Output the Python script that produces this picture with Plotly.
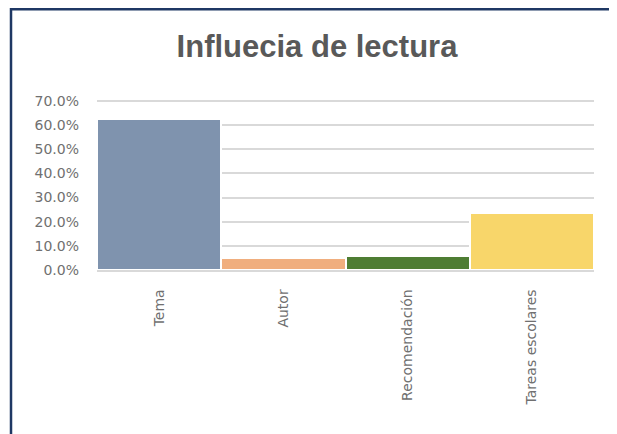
import plotly.graph_objects as go

categories = ["Tema", "Autor", "Recomendación", "Tareas escolares"]
shares = [0.625, 0.051, 0.059, 0.237]
bar_colors = ["#7F93AE", "#F0AE7E", "#4E7D33", "#F8D66A"]
y_ticks = [0, 0.1, 0.2, 0.3, 0.4, 0.5, 0.6, 0.7]

# page body has an 8px margin, so the figure is 8px smaller than the window
W, H = 609, 426
L, R, T, B = 89, 23, 91, 164
PW, PH = W - L - R, H - T - B

fig = go.Figure(
    go.Bar(
        x=categories,
        y=shares,
        marker=dict(color=bar_colors, line=dict(color="white", width=2)),
        hoverinfo="skip",
    )
)

fig.update_layout(
    width=W,
    height=H,
    margin=dict(l=L, r=R, t=T, b=B, pad=0),
    paper_bgcolor="white",
    plot_bgcolor="white",
    bargap=0,
    showlegend=False,
    title=dict(
        text="<b>Influecia de lectura</b>",
        x=309 / W,
        xanchor="center",
        xref="container",
        y=1 - 38 / H,
        yanchor="middle",
        yref="container",
        font=dict(family="Liberation Sans", size=31, color="#595959"),
    ),
    font=dict(family="DejaVu Sans", color="#6b6b6b"),
)

# top of range a touch above 70% so that gridline is still drawn
fig.update_yaxes(
    range=[0, 0.708],
    tickvals=y_ticks,
    tickformat=".1%",
    showgrid=True,
    gridcolor="#D9D9D9",
    gridwidth=1.5,
    zeroline=False,
    showline=False,
    ticks="",
    ticklabelstandoff=17,
    tickfont=dict(size=14, color="#707070"),
)

fig.update_xaxes(
    tickangle=-90,
    showline=True,
    linecolor="#D9D9D9",
    linewidth=1.5,
    ticks="",
    ticklabelstandoff=12,
    tickfont=dict(size=14, color="#707070"),
)

# navy frame around the chart (runs off the right and bottom edges)
fig.add_shape(
    type="rect",
    xref="paper", yref="paper",
    x0=-(L - 3) / PW,
    x1=(W - L + 10) / PW,
    y0=-(B + 10) / PH,
    y1=1 + (T - 1.2) / PH,
    line=dict(color="#1F3864", width=2.5),
    layer="below",
)

fig.write_html("out.html")
